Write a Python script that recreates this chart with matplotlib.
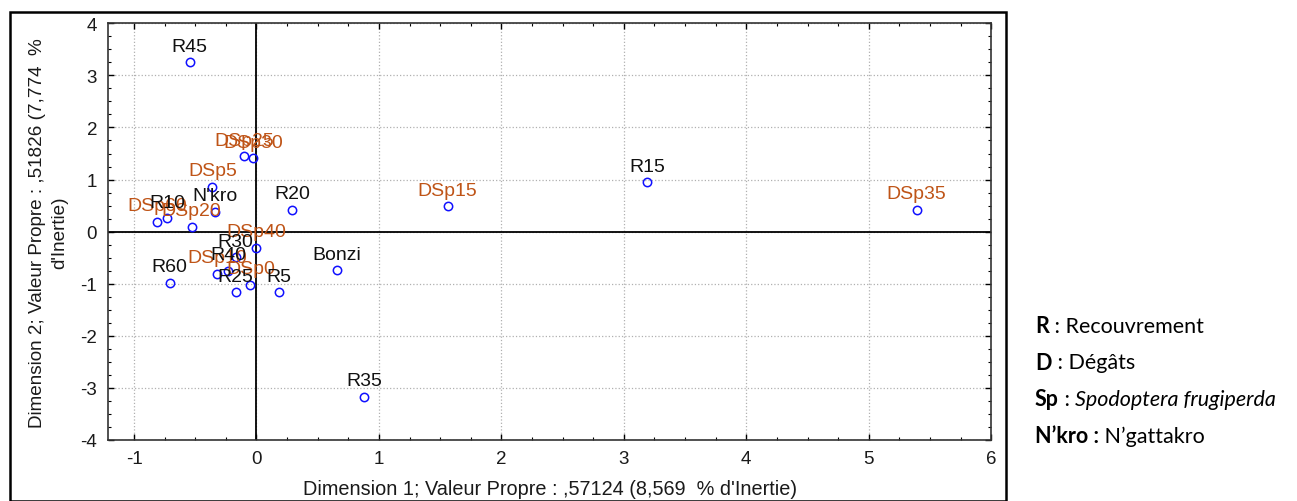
import matplotlib
matplotlib.use("Agg")
import matplotlib.pyplot as plt
from matplotlib.patches import Rectangle
from matplotlib.ticker import MultipleLocator

plt.rcParams["axes.unicode_minus"] = False

# ---- data ----
row_labels = ["R45", "R15", "R35", "Bonzi", "R20", "R5", "R25", "R60", "R10", "R30", "R40", "N'kro"]
row_x = [-0.545, 3.19, 0.88, 0.66, 0.29, 0.18, -0.17, -0.71, -0.73, -0.17, -0.23, -0.34]
row_y = [3.25, 0.95, -3.17, -0.74, 0.42, -1.16, -1.16, -0.98, 0.26, -0.49, -0.75, 0.38]

col_labels = ["DSp25", "DSp30", "DSp5", "DSp60", "DSp20", "DSp15", "DSp35", "DSp40", "DSp10", "DSp0"]
col_x = [-0.10, -0.03, -0.36, -0.81, -0.53, 1.56, 5.39, 0.00, -0.32, -0.05]
col_y = [1.45, 1.41, 0.86, 0.19, 0.09, 0.49, 0.42, -0.31, -0.81, -1.02]

x_ticks = [-1, 0, 1, 2, 3, 4, 5, 6]
y_ticks = [-4, -3, -2, -1, 0, 1, 2, 3, 4]

xlabel = "Dimension 1; Valeur Propre : ,57124 (8,569  % d'Inertie)"
ylabel = "Dimension 2; Valeur Propre : ,51826 (7,774  %\nd'Inertie)"

legend_items = [("R", " : Recouvrement"),
                ("D", " : Dégâts"),
                ("Sp", " : "),
                ("N\u2019kro :", " N\u2019gattakro")]

W, H = 1297, 502
fig = plt.figure(figsize=(W / 100, H / 100), dpi=100)
ax = fig.add_axes([108.3 / W, 1 - 441 / H, (991.2 - 108.3) / W, (441 - 24.3) / H])

FONT = "Liberation Sans"
TXT = "#1a1a1a"
ax.set_xlim(-1.21, 6)
ax.set_ylim(-4, 4)
ax.set_xticks(x_ticks)
ax.set_yticks(y_ticks)
ax.xaxis.set_minor_locator(MultipleLocator(0.25))
ax.yaxis.set_minor_locator(MultipleLocator(0.25))
ax.tick_params(which="both", direction="in", top=True, right=True, color="black")
ax.tick_params(which="major", length=4, width=1)
ax.tick_params(which="minor", length=2.5, width=0.8)
ax.tick_params(axis="x", pad=7)
ax.tick_params(axis="y", pad=8)
for lab in ax.get_xticklabels() + ax.get_yticklabels():
    lab.set_fontfamily(FONT)
    lab.set_fontsize(13.5)
    lab.set_color(TXT)
ax.grid(True, which="major", linestyle=":", color="#b0b0b0", linewidth=0.9)
ax.axhline(0, color="black", linewidth=1.3, zorder=2)
ax.axvline(0, color="black", linewidth=1.3, zorder=2)
for s in ax.spines.values():
    s.set_linewidth(1.2)
    s.set_color("#333333")

ax.set_xlabel(xlabel, fontfamily=FONT, fontsize=14.3, labelpad=8.5, color=TXT)
ax.set_ylabel(ylabel, fontfamily=FONT, fontsize=13.6, labelpad=9, color=TXT,
              linespacing=1.35)

ax.plot(row_x, row_y, linestyle="none", marker="o", markersize=6,
        markerfacecolor="none", markeredgecolor="#1010ff", markeredgewidth=1.1, zorder=3)
ax.plot(col_x, col_y, linestyle="none", marker="o", markersize=6,
        markerfacecolor="none", markeredgecolor="#1010ff", markeredgewidth=1.1, zorder=3)

for lbl, x, y in zip(col_labels, col_x, col_y):
    ax.annotate(lbl, (x, y), xytext=(0, 11.5), textcoords="offset points",
                ha="center", va="center", fontfamily=FONT, fontsize=14,
                color="#bf5417", zorder=4)
for lbl, x, y in zip(row_labels, row_x, row_y):
    ax.annotate(lbl, (x, y), xytext=(0, 11.5), textcoords="offset points",
                ha="center", va="center", fontfamily=FONT, fontsize=14,
                color="#111111", zorder=5)

# outer frame
fig.patches.append(Rectangle((10 / W, 0.0), (1006 - 10) / W, 1 - 13 / H,
                             transform=fig.transFigure, fill=False,
                             edgecolor="black", linewidth=1.8))

# legend text on the right
fig.canvas.draw()
renderer = fig.canvas.get_renderer()
ys = [327, 363, 400, 437]
LF = "Lato"
LS = 15.5
for (b, rest), yp in zip(legend_items, ys):
    t = fig.text(1035 / W, 1 - yp / H, b, fontfamily=LF, fontweight="bold",
                 fontsize=LS, va="center", ha="left")
    bb = t.get_window_extent(renderer)
    t2 = fig.text(bb.x1 / W, 1 - yp / H, rest, fontfamily=LF, fontsize=LS,
                  va="center", ha="left")
    if b == "Sp":
        bb2 = t2.get_window_extent(renderer)
        fig.text(bb2.x1 / W, 1 - yp / H, "Spodoptera frugiperda", fontfamily=LF,
                 fontstyle="italic", fontsize=LS, va="center", ha="left")

fig.savefig("out.png", dpi=100)
